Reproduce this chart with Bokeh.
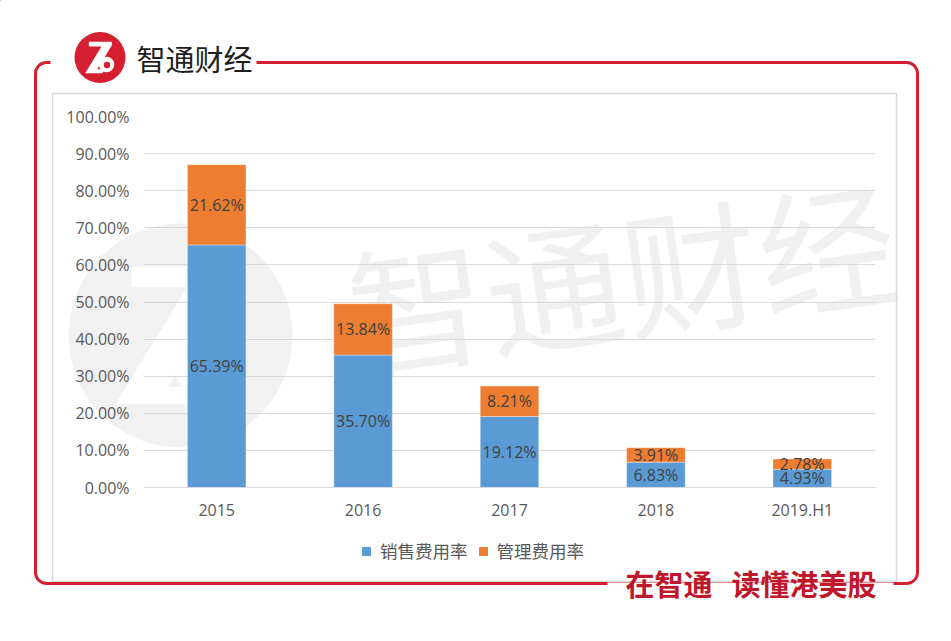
from bokeh.plotting import figure
from bokeh.layouts import column
from bokeh.models import (ColumnDataSource, LabelSet, Label, BoxAnnotation, Legend, LegendItem,
                          PrintfTickFormatter, FixedTicker, FactorRange, Range1d)
from bokeh.core.properties import value
from bokeh.embed import file_html
from bokeh.resources import INLINE

# data
years = ["2015", "2016", "2017", "2018", "2019.H1"]
sales_rate = [65.39, 35.70, 19.12, 6.83, 4.93]
admin_rate = [21.62, 13.84, 8.21, 3.91, 2.78]
series_names = ["销售费用率", "管理费用率"]
y_ticks = [0, 10, 20, 30, 40, 50, 60, 70, 80, 90, 100]

BLUE = "#5B9BD5"
ORANGE = "#ED7D31"
RED = "#d51f31"
SLOGAN_RED = "#c0182b"
GREY_TXT = "#595959"
GRID = "#d9d9d9"
LATIN = "Open Sans"
CJK = "Noto Sans CJK SC"

W, H = 951, 641
# plot area of the chart in page pixels
FL, FR, FT, FB = 143, 875, 116, 487

# ---- background layer: frame, header, watermark, slogan, legend (pixel coords)
d = figure(width=W, height=H, x_range=Range1d(0, W), y_range=Range1d(H, 0),
           x_axis_location=None, y_axis_location=None, min_border=0,
           toolbar_location=None, tools="", output_backend="svg", frame_align=False)
d.grid.visible = False
d.outline_line_color = None
d.background_fill_color = "white"
d.border_fill_color = "white"

Z_TRACE = [(55, 40), (124, 40), (124, 50), (80, 122), (100, 122), (96, 134),
           (44, 134), (93, 54), (55, 54)]


def add_logo(cx, cy, r, color, alpha, level):
    s = r / 25.5
    d.circle(x=[cx], y=[cy], radius=r, fill_color=color, fill_alpha=alpha,
             line_color=None, level=level)
    zx = [cx + (70 + a / 3 - 99.5) * s for a, b in Z_TRACE]
    zy = [cy + (28 + b / 3 - 57) * s for a, b in Z_TRACE]
    d.patch(zx, zy, fill_color="white", line_color=None, level=level)
    d.circle(x=[cx + 6.5 * s], y=[cy + 7 * s], radius=7.8 * s, fill_color="white",
             line_color=None, level=level)
    d.circle(x=[cx + 7 * s], y=[cy + 7.5 * s], radius=3.2 * s, fill_color=color,
             fill_alpha=alpha, line_color=None, level=level)


# watermark
add_logo(180, 335, 112, "black", 0.055, "glyph")
d.add_layout(Label(x=621, y=272, text="智通财经", angle=8, angle_units="deg",
                   text_align="center", text_baseline="middle", text_font=CJK,
                   text_font_size="138px", text_color="black", text_alpha=0.06))

# chart box and red frame with gaps for header and slogan
d.add_layout(BoxAnnotation(left=52, right=896, top=93, bottom=581, fill_color=None,
                           fill_alpha=0, line_color=GRID, line_alpha=1, line_width=1.5))
d.add_layout(BoxAnnotation(left=35, right=917, top=62, bottom=583, fill_color=None,
                           fill_alpha=0, line_color=RED, line_alpha=1, line_width=3,
                           border_radius=11))
d.add_layout(BoxAnnotation(left=50, right=256, top=57, bottom=67, fill_color="white",
                           fill_alpha=1, line_color=None))
d.add_layout(BoxAnnotation(left=607, right=893, top=582, bottom=589, fill_color="white",
                           fill_alpha=1, line_color=None))

# header
add_logo(99.5, 57, 25.5, RED, 1, "overlay")
d.add_layout(Label(x=136, y=57, text="智通财经", text_baseline="middle",
                   text_font=CJK, text_font_size="29px", text_color="#1e1e1e"))

# slogan
for txt, xl in (("在智通", 625), ("读懂港美股", 731)):
    d.add_layout(Label(x=xl, y=582, text=txt, text_baseline="middle",
                       text_font=CJK, text_font_size="29px", text_font_style="bold",
                       text_color=SLOGAN_RED))

# legend swatches (renderers parked outside the visible area)
sw1 = d.vbar(x=[-500], top=[-500], bottom=[-400], width=1, fill_color=BLUE,
             line_color=BLUE)
sw2 = d.vbar(x=[-500], top=[-500], bottom=[-400], width=1, fill_color=ORANGE,
             line_color=ORANGE)
lg = Legend(items=[LegendItem(label=series_names[0], renderers=[sw1]),
                   LegendItem(label=series_names[1], renderers=[sw2])],
            location=(361, H - 563), orientation="horizontal", glyph_width=10,
            glyph_height=10, label_standoff=9, spacing=10, padding=0, margin=0,
            label_height=20, border_line_color=None, background_fill_alpha=0,
            label_text_font=CJK, label_text_font_size="17.5px",
            label_text_color=GREY_TXT)
d.add_layout(lg)

# ---- chart layer, transparent, laid over the background layer
p = figure(
    x_range=FactorRange(factors=years, range_padding=0),
    y_range=Range1d(0, 100),
    width=W, height=H,
    min_border_left=FL, min_border_right=W - FR,
    min_border_top=FT, min_border_bottom=H - FB,
    toolbar_location=None, tools="", output_backend="svg",
    margin=(-H, 0, 0, 0), frame_align=False,
)
p.outline_line_color = None
p.background_fill_alpha = 0
p.border_fill_alpha = 0

source = ColumnDataSource(dict(year=years, sales=sales_rate, admin=admin_rate))
p.vbar_stack(["sales", "admin"], x="year", width=0.4, source=source,
             fill_color=[BLUE, ORANGE], line_color="white", line_alpha=0.35,
             line_width=1)

# value labels in the middle of each segment
lab_x = years + years
lab_y = [s / 2 for s in sales_rate] + [s + a / 2 for s, a in zip(sales_rate, admin_rate)]
lab_t = ["%.2f%%" % v for v in sales_rate] + ["%.2f%%" % v for v in admin_rate]
lab_src = ColumnDataSource(dict(x=lab_x, y=lab_y, t=lab_t))
p.add_layout(LabelSet(x="x", y="y", text="t", source=lab_src, text_align="center",
                      text_baseline="middle", text_font=value(LATIN),
                      text_font_size="16px", text_color="#404040"))

p.yaxis.ticker = FixedTicker(ticks=y_ticks)
p.yaxis.formatter = PrintfTickFormatter(format="%.2f%%")
p.yaxis.axis_line_color = None
p.yaxis.major_tick_line_color = None
p.yaxis.minor_tick_line_color = None
p.yaxis.major_label_standoff = 8
p.xaxis.axis_line_color = GRID
p.xaxis.major_tick_line_color = None
p.xaxis.major_label_standoff = 5
for ax in (p.xaxis, p.yaxis):
    ax.major_label_text_font = LATIN
    ax.major_label_text_font_size = "16px"
    ax.major_label_text_color = GREY_TXT
p.xgrid.grid_line_color = None
p.ygrid.ticker = FixedTicker(ticks=y_ticks)
p.ygrid.grid_line_color = GRID

layout = column(d, p, spacing=0)
open("out.html", "w", encoding="utf-8").write(file_html(layout, INLINE))
